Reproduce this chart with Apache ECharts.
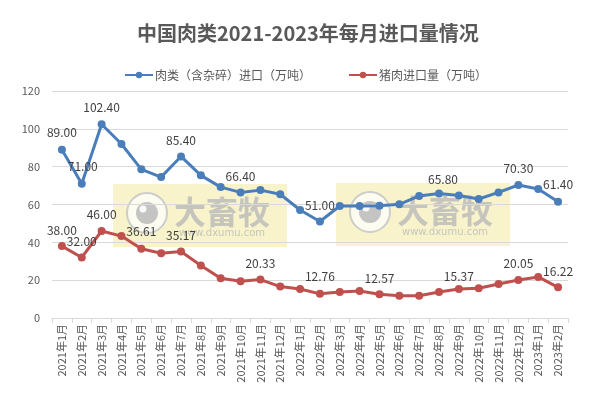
<!DOCTYPE html>
<html>
<head>
<meta charset="utf-8">
<script src="https://cdn.jsdelivr.net/npm/echarts@6/dist/echarts.min.js"></script>
<style>
  html, body { margin: 0; padding: 0; background: #fff; }
  #chart { width: 596px; height: 398px; }
</style>
</head>
<body>
<div id="chart"></div>
<script>
const months = [
  '2021年1月', '2021年2月', '2021年3月', '2021年4月', '2021年5月', '2021年6月',
  '2021年7月', '2021年8月', '2021年9月', '2021年10月', '2021年11月', '2021年12月',
  '2022年1月', '2022年2月', '2022年3月', '2022年4月', '2022年5月', '2022年6月',
  '2022年7月', '2022年8月', '2022年9月', '2022年10月', '2022年11月', '2022年12月',
  '2023年1月', '2023年2月'
]
// 肉类（含杂碎）进口（万吨）
const meatValues = [89.0, 71.0, 102.4, 92.0, 78.6, 74.5, 85.4, 75.4, 69.2, 66.4, 67.6, 65.4,
  57.1, 51.0, 59.2, 59.2, 59.3, 60.1, 64.5, 65.8, 64.8, 62.9, 66.4, 70.3, 68.2, 61.4]
// 猪肉进口量（万吨）
const porkValues = [38.0, 32.0, 46.0, 43.3, 36.61, 34.2, 35.17, 27.8, 21.0, 19.4, 20.33, 16.6,
  15.3, 12.76, 13.7, 14.3, 12.57, 11.8, 11.8, 13.7, 15.37, 15.7, 18.0, 20.05, 21.7, 16.22]
// 显示数值标签的位置
const meatLabelIdx = [0, 1, 2, 6, 9, 13, 19, 23, 25]
const porkLabelIdx = [0, 1, 2, 4, 6, 10, 13, 16, 20, 23, 25]
const yTicks = { min: 0, max: 120, interval: 20 }

const chart = echarts.init(document.getElementById('chart'), null, { renderer: 'canvas' })

function withLabels(values, idx, offsets) {
  return values.map((v, i) => {
    const item = { value: v }
    if (idx.includes(i)) {
      item.label = { show: true, offset: offsets[i] || [0, -1] }
    }
    return item
  })
}

const meatOffsets = { 0: [0, -2], 1: [1, -2], 2: [0, -2], 19: [4, 1], 23: [0, -2], 25: [0, -2] }
const porkOffsets = { 2: [0, -2], 4: [0, -2], 13: [0, -2], 20: [0, 3], 23: [0, -2] }

function watermark(x, y) {
  return {
    type: 'group', left: x, top: y, z: 100,
    children: [
      { type: 'rect', shape: { x: 0, y: 0, width: 174, height: 63 }, style: { fill: 'rgba(240,228,140,0.45)' } },
      { type: 'circle', shape: { cx: 34, cy: 29, r: 20 }, style: { fill: 'rgba(255,255,255,0.7)', stroke: 'rgba(200,200,200,0.9)', lineWidth: 2 } },
      { type: 'circle', shape: { cx: 34, cy: 29, r: 11 }, style: { fill: 'rgba(190,190,190,0.9)' } },
      { type: 'circle', shape: { cx: 30, cy: 25, r: 3.5 }, style: { fill: 'rgba(255,255,255,0.9)' } },
      { type: 'text', style: { x: 109, y: 28, text: '大畜牧', fill: 'rgba(185,185,185,0.8)', font: 'bold 32px "Noto Sans CJK SC"', align: 'center', verticalAlign: 'middle' } },
      { type: 'text', style: { x: 109, y: 49, text: 'www.dxumu.com', fill: 'rgba(185,185,185,0.8)', font: '10px "DejaVu Sans"', align: 'center', verticalAlign: 'middle' } }
    ]
  }
}

chart.setOption({
  backgroundColor: '#fff',
  animation: false,
  textStyle: { fontFamily: '"Noto Sans CJK SC", "DejaVu Sans", sans-serif' },
  title: {
    text: '中国肉类2021-2023年每月进口量情况',
    left: 132,
    top: 18,
    textStyle: { fontSize: 20, fontWeight: 'bold', color: '#595959' }
  },
  legend: {
    top: 64,
    left: 119,
    itemGap: 37,
    itemWidth: 28,
    itemHeight: 8,
    textStyle: { fontSize: 12, color: '#595959', padding: [0, 0, 0, -3] },
    data: ['肉类（含杂碎）进口（万吨）', '猪肉进口量（万吨）']
  },
  grid: { left: 52, right: 28, top: 91, bottom: 80 },
  xAxis: {
    type: 'category',
    data: months,
    boundaryGap: true,
    axisLine: { lineStyle: { color: '#d9d9d9' } },
    axisTick: { show: true, lineStyle: { color: '#d9d9d9' } },
    axisLabel: { rotate: 90, fontSize: 11, color: '#595959', margin: 6 }
  },
  yAxis: {
    type: 'value',
    min: yTicks.min,
    max: yTicks.max,
    interval: yTicks.interval,
    axisLine: { show: false },
    axisTick: { show: false },
    axisLabel: { fontSize: 11, color: '#595959', margin: 12 },
    splitLine: { lineStyle: { color: '#d9d9d9' } }
  },
  series: [
    {
      name: '肉类（含杂碎）进口（万吨）',
      type: 'line',
      data: withLabels(meatValues, meatLabelIdx, meatOffsets),
      color: '#4a7ebb',
      lineStyle: { width: 3, color: '#4a7ebb' },
      symbol: 'circle',
      symbolSize: 8,
      label: { show: false, position: 'top', fontSize: 12, color: '#404040', formatter: (p) => p.value.toFixed(2) }
    },
    {
      name: '猪肉进口量（万吨）',
      type: 'line',
      data: withLabels(porkValues, porkLabelIdx, porkOffsets),
      color: '#c0504d',
      lineStyle: { width: 3, color: '#c0504d' },
      symbol: 'circle',
      symbolSize: 8,
      label: { show: false, position: 'top', fontSize: 12, color: '#404040', formatter: (p) => p.value.toFixed(2) }
    }
  ],
  graphic: [watermark(113, 184), watermark(336, 183)]
})
</script>
</body>
</html>
